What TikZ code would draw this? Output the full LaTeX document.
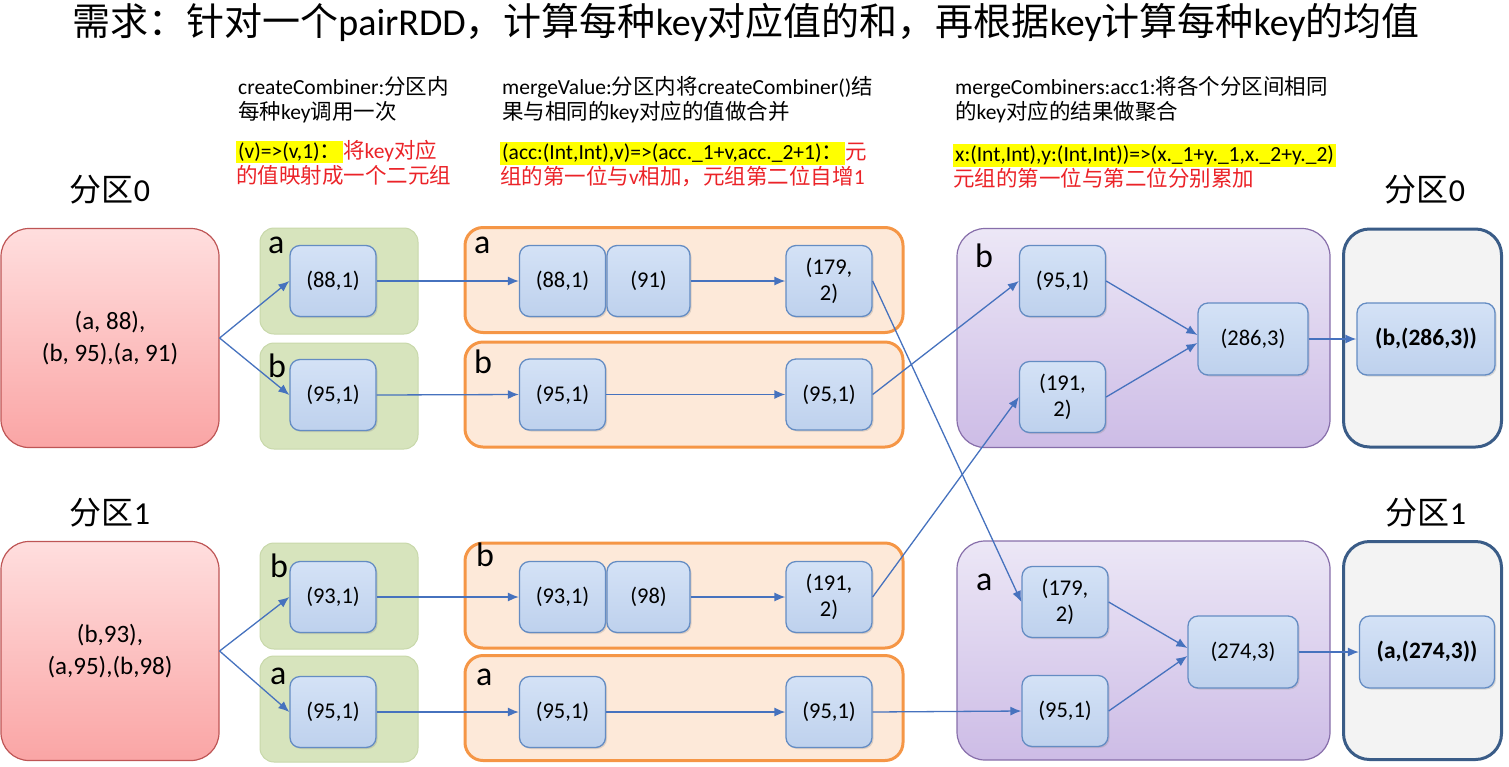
\documentclass[tikz,border=0pt]{standalone}
\usepackage{fontspec}
\setmainfont{Carlito}
\newfontfamily\cjk{Noto Sans CJK SC}
\newcommand{\zh}[1]{{\cjk #1}}
\usepackage{xcolor}
\usepackage{tikz}
\usetikzlibrary{arrows}
\usetikzlibrary{arrows.meta}
\usetikzlibrary{shadows}

\definecolor{srctop}{RGB}{255,222,222}
\definecolor{srcbot}{RGB}{250,165,165}
\definecolor{srcline}{RGB}{190,85,85}
\definecolor{cmbfill}{RGB}{215,228,189}
\definecolor{cmbline}{RGB}{200,216,170}
\definecolor{mrgfill}{RGB}{253,233,217}
\definecolor{mrgline}{RGB}{245,150,70}
\definecolor{cmbstop}{RGB}{236,231,246}
\definecolor{cmbsbot}{RGB}{205,188,230}
\definecolor{cmbsline}{RGB}{135,110,170}
\definecolor{resfill}{RGB}{243,243,243}
\definecolor{resline}{RGB}{58,92,135}
\definecolor{tuptop}{RGB}{212,226,246}
\definecolor{tupbot}{RGB}{190,209,237}
\definecolor{tupline}{RGB}{100,140,195}
\definecolor{flowblue}{RGB}{70,114,190}
\definecolor{hlyellow}{RGB}{255,255,0}
\definecolor{hlred}{RGB}{235,35,40}

\tikzset{
  srcbox/.style={draw=srcline, line width=1.2pt, rounded corners=28pt,
    top color=srctop, bottom color=srcbot, minimum width=218pt,
    minimum height=219pt, align=center, inner sep=0pt,
    font=\fontsize{25}{32}\selectfont},
  cmbbox/.style={draw=cmbline, line width=1pt, fill=cmbfill,
    rounded corners=14pt, minimum width=158pt, minimum height=106pt},
  mrgbox/.style={draw=mrgline, line width=3pt, fill=mrgfill,
    rounded corners=18pt, minimum width=438pt, minimum height=105pt},
  cmbsbox/.style={draw=cmbsline, line width=1.2pt, rounded corners=28pt,
    top color=cmbstop, bottom color=cmbsbot, minimum width=373pt,
    minimum height=219pt},
  resbox/.style={draw=resline, line width=3pt, fill=resfill,
    rounded corners=26pt, minimum width=158pt, minimum height=218pt},
  tuple/.style={draw=tupline, line width=1.3pt, rounded corners=10pt,
    top color=tuptop, bottom color=tupbot, minimum width=86pt,
    minimum height=71pt, align=center, inner sep=2pt,
    font=\fontsize{22.5}{26}\selectfont,
    drop shadow={opacity=.25, shadow xshift=1.5pt, shadow yshift=-1.5pt}},
  keylbl/.style={anchor=base west, inner sep=0pt, font=\fontsize{34}{34}\selectfont},
  partlbl/.style={inner sep=0pt, font=\fontsize{32}{32}\selectfont},
  note/.style={anchor=north west, align=left, inner sep=0pt,
    font=\fontsize{21.5}{25}\selectfont},
  flow/.style={draw=flowblue, line width=1.3pt, ->, >={Latex[length=11pt,width=9pt]}},
}

\begin{document}
\begin{tikzpicture}[x=1pt, y=-1pt]
\useasboundingbox (0,0) rectangle (1509,766);
\setlength{\fboxsep}{2pt}

% title and notes
\node[font=\fontsize{38}{42}\selectfont] (title) at (746,22)
  {\zh{需求：针对一个}pairRDD\zh{，计算每种}key\zh{对应值的和，再根据}key\zh{计算每种}key\zh{的均值}};
\node[note] (noteC) at (238,76) {createCombiner:\zh{分区内}\\\zh{每种}key\zh{调用一次}};
\node[note] (fnC) at (236,140)
  {\colorbox{hlyellow}{(v)=>(v,1)\zh{：}}\textcolor{hlred}{\zh{将}key\zh{对应}}\\
   \textcolor{hlred}{\zh{的值映射成一个二元组}}};
\node[note] (noteM) at (502,76) {mergeValue:\zh{分区内将}createCombiner()\zh{结}\\\zh{果与相同的}key\zh{对应的值做合并}};
\node[note] (fnM) at (500,142)
  {\colorbox{hlyellow}{(acc:(Int,Int),v)=>(acc.\_1+v,acc.\_2+1)\zh{：}}\textcolor{hlred}{\zh{元}}\\
   \textcolor{hlred}{\zh{组的第一位与}v\zh{相加，元组第二位自增}1}};
\node[note] (noteMC) at (955,76) {mergeCombiners:acc1:\zh{将各个分区间相同}\\\zh{的}key\zh{对应的结果做聚合}};
\node[note] (fnMC) at (953,144)
  {\colorbox{hlyellow}{x:(Int,Int),y:(Int,Int))=>(x.\_1+y.\_1,x.\_2+y.\_2)}\\
   \textcolor{hlred}{\zh{元组的第一位与第二位分别累加}}};

\node[partlbl] (p0in) at (110,190) {\zh{分区}0};
\node[partlbl] (p1in) at (110,513) {\zh{分区}1};
\node[partlbl] (p0out) at (1425,190) {\zh{分区}0};
\node[partlbl] (p1out) at (1426,513) {\zh{分区}1};

% partitions and stage boxes
\node[srcbox] (src0) at (110,338) {(a, 88),\\(b, 95),(a, 91)};
\node[srcbox] (src1) at (110,651) {(b,93),\\(a,95),(b,98)};

\node[cmbbox] (cA0) at (339,281) {};
\node[cmbbox] (cB0) at (339,396) {};
\node[cmbbox] (cB1) at (339,596) {};
\node[cmbbox] (cA1) at (339,709) {};

\node[mrgbox] (mA0) at (684,280) {};
\node[mrgbox] (mB0) at (684,394.5) {};
\node[mrgbox] (mB1) at (684,595.5) {};
\node[mrgbox] (mA1) at (684,708) {};

\node[cmbsbox] (sB) at (1143.5,338) {};
\node[cmbsbox] (sA) at (1143.5,650.5) {};
\node[resbox] (rB) at (1422.5,338) {};
\node[resbox] (rA) at (1422.5,650.5) {};

% key letters
\node[keylbl] (kcA0) at (268,253) {a};
\node[keylbl] (kcB0) at (268,377) {b};
\node[keylbl] (kcB1) at (270,577) {b};
\node[keylbl] (kcA1) at (270,684) {a};
\node[keylbl] (kmA0) at (474,253) {a};
\node[keylbl] (kmB0) at (474,373) {b};
\node[keylbl] (kmB1) at (476,566) {b};
\node[keylbl] (kmA1) at (476,685) {a};
\node[keylbl] (ksB) at (975,267) {b};
\node[keylbl] (ksA) at (976,590) {a};

% tuples
\node[tuple] (tcA0) at (333,281) {(88,1)};
\node[tuple] (tcB0) at (333,395) {(95,1)};
\node[tuple] (tcB1) at (333,597) {(93,1)};
\node[tuple] (tcA1) at (333,712) {(95,1)};

\node[tuple] (tmA0a) at (562.5,281) {(88,1)};
\node[tuple, minimum width=83pt] (tmA0b) at (648.5,281) {(91)};
\node[tuple] (tmA0c) at (829,281) {(179,\\2)};
\node[tuple] (tmB0a) at (562.5,394.5) {(95,1)};
\node[tuple] (tmB0c) at (829,394.5) {(95,1)};
\node[tuple] (tmB1a) at (562.5,597) {(93,1)};
\node[tuple, minimum width=83pt] (tmB1b) at (648.5,597) {(98)};
\node[tuple] (tmB1c) at (829,597) {(191,\\2)};
\node[tuple] (tmA1a) at (562.5,712) {(95,1)};
\node[tuple] (tmA1c) at (829,712) {(95,1)};

\node[tuple] (tsB1) at (1062.5,281) {(95,1)};
\node[tuple] (tsB2) at (1062.5,397) {(191,\\2)};
\node[tuple, minimum width=110pt, minimum height=72pt] (tsB) at (1253,339) {(286,3)};
\node[tuple, minimum width=138pt, minimum height=72pt, font=\fontsize{23.5}{26}\selectfont\bfseries] (trB) at (1426,339) {(b,(286,3))};
\node[tuple] (tsA1) at (1065,602) {(179,\\2)};
\node[tuple] (tsA2) at (1065,711) {(95,1)};
\node[tuple, minimum width=110pt, minimum height=72pt] (tsA) at (1243,652) {(274,3)};
\node[tuple, minimum width=135pt, minimum height=72pt, font=\fontsize{23.5}{26}\selectfont\bfseries] (trA) at (1427,652) {(a,(274,3))};

% connectors
\foreach \a/\b in {src0/tcA0, src0/tcB0, src1/tcB1, src1/tcA1,
  tcA0/tmA0a, tcB0/tmB0a, tcB1/tmB1a, tcA1/tmA1a,
  tmA0b/tmA0c, tmB0a/tmB0c, tmB1b/tmB1c, tmA1a/tmA1c,
  tmA0c/tsA1, tmB0c/tsB1, tmB1c/tsB2, tmA1c/tsA2,
  tsB/trB, tsA/trA} {
  \draw[flow] (\a.east) -- (\b.west);
}
\draw[flow] (tsB1.east) -- ([yshift=4pt]tsB.west);
\draw[flow] (tsB2.east) -- ([yshift=-4pt]tsB.west);
\draw[flow] (tsA1.east) -- ([yshift=4pt]tsA.west);
\draw[flow] (tsA2.east) -- ([yshift=-4pt]tsA.west);
\end{tikzpicture}
\end{document}
